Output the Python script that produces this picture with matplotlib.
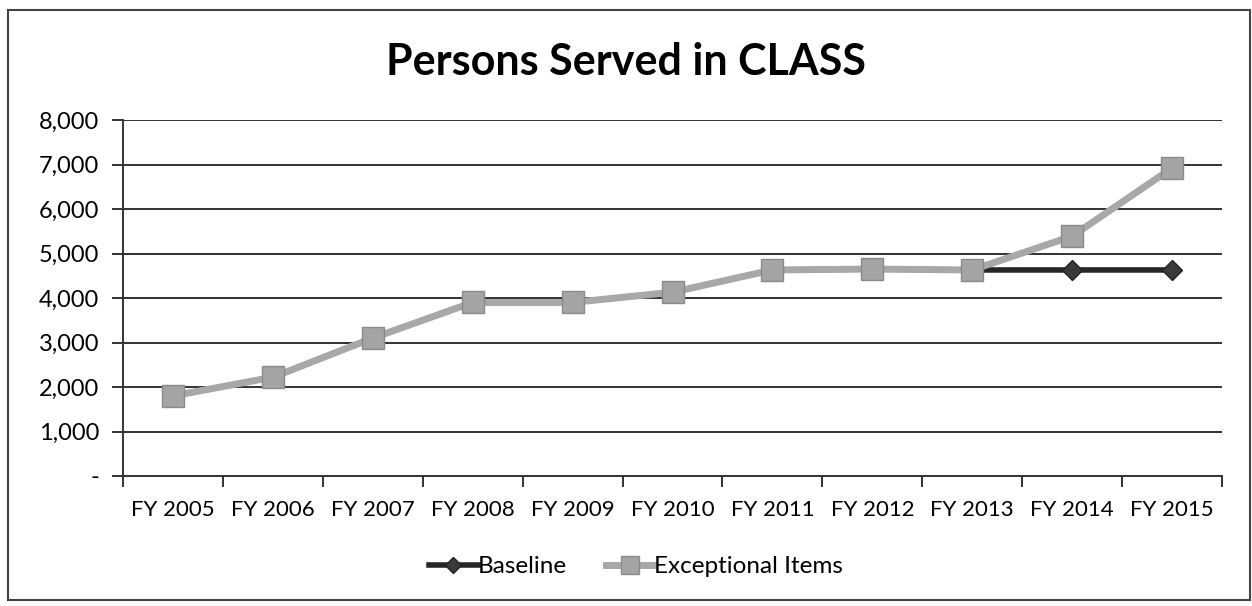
import matplotlib.pyplot as plt
from matplotlib.ticker import FuncFormatter
from matplotlib.patches import Rectangle

# Persons served per fiscal year
years = ["FY 2005", "FY 2006", "FY 2007", "FY 2008", "FY 2009", "FY 2010",
         "FY 2011", "FY 2012", "FY 2013", "FY 2014", "FY 2015"]
baseline = [1800, 2220, 3100, 3900, 3900, 4130, 4630, 4650, 4630, 4630, 4630]
exceptional = [1800, 2220, 3100, 3900, 3900, 4130, 4630, 4650, 4630, 5390, 6920]

plt.rcParams['font.family'] = ['Lato', 'DejaVu Sans']

fig = plt.figure(figsize=(12.52, 6.06), dpi=100)
ax = fig.add_axes([123 / 1252, 1 - 476 / 606, (1222 - 123) / 1252, (476 - 120) / 606])

x = list(range(len(years)))
ax.plot(x, baseline, color="#262626", lw=4, marker="D", ms=10,
        markerfacecolor="#3a3a3a", markeredgecolor="#222222", label="Baseline", zorder=3)
ax.plot(x, exceptional, color="#a8a8a8", lw=5, marker="s", ms=16,
        markerfacecolor="#a4a4a4", markeredgecolor="#8a8a8a", label="Exceptional Items", zorder=4)

ax.set_xlim(-0.5, len(years) - 0.5)
ax.set_ylim(0, 8000)
ax.set_yticks(range(0, 8001, 1000))
ax.yaxis.set_major_formatter(FuncFormatter(lambda v, p: "-" if v == 0 else f"{int(v):,}"))
ax.set_xticks(x)
ax.set_xticklabels(years)
ax.set_xticks([i - 0.5 for i in range(len(years) + 1)], minor=True)

ax.grid(axis="y", color="#333333", lw=1.4)
ax.set_axisbelow(True)
for s in ["top", "right"]:
    ax.spines[s].set_visible(False)
for s in ["left", "bottom"]:
    ax.spines[s].set_color("#333333")
    ax.spines[s].set_linewidth(1.4)

ax.tick_params(axis="y", length=8, width=1.4, color="#333333", labelsize=17, pad=9)
ax.tick_params(axis="x", which="major", length=0, labelsize=16, pad=17)
ax.tick_params(axis="x", which="minor", length=8, width=1.4, color="#333333")

fig.text(0.5, 1 - 62 / 606, "Persons Served in CLASS", ha="center", va="center",
         fontsize=31, fontweight="bold")

ax.legend(loc="center", bbox_to_anchor=(0.467, -0.255), ncol=2, frameon=False,
          fontsize=17.5, handlelength=2.0, handletextpad=0.0,
          columnspacing=1.6, markerscale=0.8)

# outer chart border
fig.patches.append(Rectangle((8 / 1252, 1 - 600 / 606), 1242 / 1252, 590 / 606,
                             transform=fig.transFigure, fill=False,
                             edgecolor="#444444", lw=1.5))

fig.savefig("out.png", dpi=100)
